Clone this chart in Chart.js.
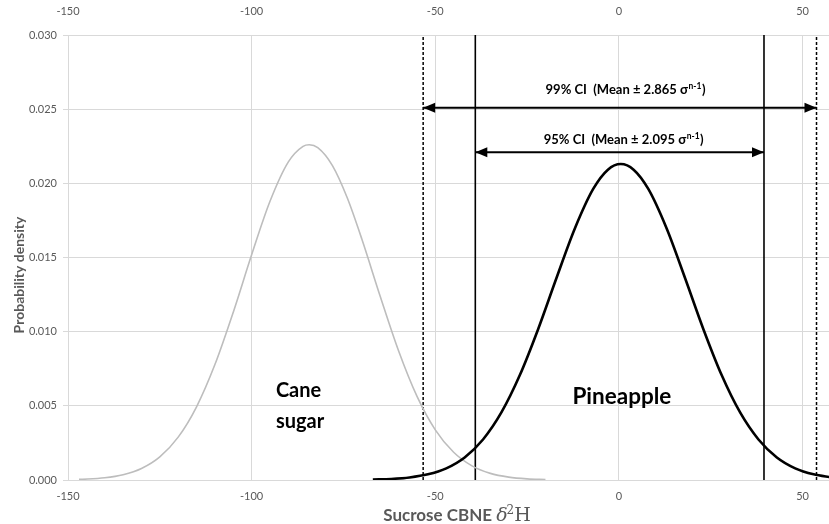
<!DOCTYPE html>
<html><head><meta charset="utf-8">
<script src="https://cdn.jsdelivr.net/npm/chart.js@4"></script>
<style>html,body{margin:0;padding:0;background:#fff}#wrap{width:829px;height:524px;position:relative}</style>
</head><body><div id="wrap"><canvas id="c" width="829" height="524"></canvas></div>
<script>
// Cane sugar probability density (grey curve)
const caneX = [-147, -140, -135, -130, -125, -120, -115, -110, -105, -100, -95, -90, -86, -84.3, -82, -78, -74, -70, -65, -60, -55, -50, -45, -40, -35, -30, -25, -20];
const caneY = [0.0000396, 0.000151, 0.000357, 0.000777, 0.001559, 0.002889, 0.004936, 0.007781, 0.011316, 0.015183, 0.018787, 0.021445, 0.022495, 0.0226, 0.022408, 0.021197, 0.019043, 0.016246, 0.012388, 0.008713, 0.005653, 0.003383, 0.001868, 0.000951, 0.000447, 0.000194, 0.0000775, 0.0000286];
// Pineapple probability density (black curve)
const pineX = [-67, -62, -57, -52, -47, -42, -37, -32, -27, -22, -17, -12, -7, -3, 0.5, 4, 8, 13, 18, 23, 28, 33, 38, 43, 48, 53, 58];
const pineY = [0.0000274, 0.0000708, 0.000170, 0.000380, 0.000788, 0.001521, 0.002730, 0.004552, 0.007056, 0.010167, 0.013617, 0.016953, 0.019620, 0.020922, 0.0213, 0.020922, 0.019620, 0.016953, 0.013617, 0.010167, 0.007056, 0.004552, 0.002730, 0.001521, 0.000788, 0.000380, 0.000170];
// Confidence interval limits (x) and arrow heights (y)
const ci95 = [-39.1, 39.5];
const ci99 = [-53.3, 53.8];
const ci99ArrowY = 0.0251;
const ci95ArrowY = 0.0221;
// Axis ticks
const xTicks = [-150, -100, -50, 0, 50];
const yTicks = [0, 0.005, 0.010, 0.015, 0.020, 0.025, 0.030];
const xMin = -150, xMax = 57.2, yMin = 0, yMax = 0.030;
// Texts
const ci99Text = ['99% CI  (Mean \u00b1 2.865 \u03c3', 'n-1', ')'];
const ci95Text = ['95% CI  (Mean \u00b1 2.095 \u03c3', 'n-1', ')'];
const ci99TextPos = [1.8, 0.02601];
const ci95TextPos = [1.3, 0.02264];
const caneLabel = ['Cane', 'sugar'];
const caneLabelPos = [-93.4, 0.00561, 0.00351];
const pineLabel = 'Pineapple';
const pineLabelPos = [0.8, 0.00514];
const xTitle = ['Sucrose CBNE ', '\u03b4', '2', 'H'];
const yTitle = 'Probability density';

const SANS = 'Lato, "Open Sans", sans-serif';
const SERIF = '"DejaVu Serif", "Liberation Serif", serif';
const GREY_TXT = '#595959';
const GRID = '#d9d9d9';

function pts(xs, ys) { return xs.map((x, i) => ({x: x, y: ys[i]})); }
function vline(x) { return [{x: x, y: yMin}, {x: x, y: yMax}]; }
function hline(xs, y) { return [{x: xs[0], y: y}, {x: xs[1], y: y}]; }

const annot = {
  id: 'annot',
  afterDatasetsDraw(chart) {
    const ctx = chart.ctx;
    const xs = chart.scales.x, ys = chart.scales.y;
    const px = v => xs.getPixelForValue(v), py = v => ys.getPixelForValue(v);
    ctx.save();
    // arrowheads
    function head(xTip, y, dir) {
      const L = 12, W = 5;
      ctx.beginPath();
      ctx.moveTo(xTip, y);
      ctx.lineTo(xTip - dir * L, y - W);
      ctx.lineTo(xTip - dir * L, y + W);
      ctx.closePath();
      ctx.fillStyle = '#000';
      ctx.fill();
    }
    [[ci99, ci99ArrowY], [ci95, ci95ArrowY]].forEach(([r, y]) => {
      head(px(r[0]), py(y), -1);
      head(px(r[1]), py(y), 1);
    });
    // CI labels with superscript
    function ciText(parts, pos) {
      const main = 'bold 13px ' + SANS, sup = 'bold 8.5px ' + SANS;
      ctx.font = main; const w1 = ctx.measureText(parts[0]).width; const w3 = ctx.measureText(parts[2]).width;
      ctx.font = sup; const w2 = ctx.measureText(parts[1]).width;
      let x = px(pos[0]) - (w1 + w2 + w3 + 1) / 2; const y = py(pos[1]);
      ctx.fillStyle = '#000'; ctx.textBaseline = 'alphabetic'; ctx.textAlign = 'left';
      ctx.font = main; ctx.fillText(parts[0], x, y); x += w1 + 0.5;
      ctx.font = sup; ctx.fillText(parts[1], x, y - 5); x += w2 + 0.5;
      ctx.font = main; ctx.fillText(parts[2], x, y);
    }
    ciText(ci99Text, ci99TextPos);
    ciText(ci95Text, ci95TextPos);
    // Series labels
    ctx.fillStyle = '#000';
    ctx.font = 'bold 20px ' + SANS;
    ctx.textAlign = 'left'; ctx.textBaseline = 'alphabetic';
    ctx.fillText(caneLabel[0], px(caneLabelPos[0]), py(caneLabelPos[1]));
    ctx.fillText(caneLabel[1], px(caneLabelPos[0]), py(caneLabelPos[2]));
    ctx.font = 'bold 22.5px ' + SANS;
    ctx.textAlign = 'center';
    ctx.fillText(pineLabel, px(pineLabelPos[0]), py(pineLabelPos[1]));
    // X axis title (mixed fonts)
    const f1 = 'bold 17px ' + SANS, f2 = 'italic 19px ' + SERIF, f3 = '12px ' + SERIF, f4 = '19px ' + SERIF;
    const fonts = [f1, f2, f3, f4];
    const widths = xTitle.map((t, i) => { ctx.font = fonts[i]; return ctx.measureText(t).width; });
    const total = widths.reduce((a, b) => a + b, 0);
    let tx = (chart.chartArea.left + chart.chartArea.right) / 2 + 9 - total / 2;
    const ty = 521;
    ctx.textAlign = 'left'; ctx.fillStyle = GREY_TXT;
    xTitle.forEach((t, i) => {
      ctx.font = fonts[i];
      ctx.fillText(t, tx, i === 2 ? ty - 7 : ty);
      tx += widths[i] - (i === 1 ? 1 : 0);
    });
    // Y axis title (rotated)
    ctx.save();
    ctx.translate(19, 275);
    ctx.rotate(-Math.PI / 2);
    ctx.font = 'bold 14px ' + SANS;
    ctx.textAlign = 'center'; ctx.textBaseline = 'middle';
    ctx.fillText(yTitle, 0, 0);
    ctx.restore();
    ctx.restore();
  }
};

const tickFont = {family: SANS, size: 11};
const setXTicks = s => { s.ticks = xTicks.map(v => ({value: v})); };

new Chart(document.getElementById('c'), {
  type: 'scatter',
  data: {
    datasets: [
      {data: pts(pineX, pineY), showLine: true, borderColor: '#000', borderWidth: 2.6, pointRadius: 0, tension: 0.4, cubicInterpolationMode: 'monotone'},
      {data: pts(caneX, caneY), showLine: true, borderColor: '#bdbdbd', borderWidth: 1.6, pointRadius: 0, tension: 0.4, cubicInterpolationMode: 'monotone'},
      {data: vline(ci95[0]), showLine: true, borderColor: '#000', borderWidth: 1.6, pointRadius: 0},
      {data: vline(ci95[1]), showLine: true, borderColor: '#000', borderWidth: 1.6, pointRadius: 0},
      {data: vline(ci99[0]), showLine: true, borderColor: '#000', borderWidth: 1.5, borderDash: [3, 2], pointRadius: 0},
      {data: vline(ci99[1]), showLine: true, borderColor: '#000', borderWidth: 1.5, borderDash: [3, 2], pointRadius: 0},
      {data: hline(ci99, ci99ArrowY), showLine: true, borderColor: '#000', borderWidth: 2, pointRadius: 0},
      {data: hline(ci95, ci95ArrowY), showLine: true, borderColor: '#000', borderWidth: 2, pointRadius: 0}
    ]
  },
  options: {
    responsive: false,
    animation: false,
    events: [],
    layout: {padding: 0},
    plugins: {legend: {display: false}, tooltip: {enabled: false}},
    scales: {
      x: {
        type: 'linear', position: 'bottom', min: xMin, max: xMax,
        afterBuildTicks: setXTicks,
        afterFit: s => { s.height = 44; },
        grid: {color: GRID, lineWidth: 1, drawTicks: false},
        border: {color: GRID},
        ticks: {color: GREY_TXT, font: tickFont, padding: 10, maxRotation: 0, callback: v => String(v)}
      },
      x2: {
        type: 'linear', position: 'top', min: xMin, max: xMax,
        afterBuildTicks: setXTicks,
        afterFit: s => { s.height = 35; },
        grid: {display: false},
        border: {display: false},
        ticks: {color: GREY_TXT, font: tickFont, padding: 9, maxRotation: 0, callback: v => String(v)}
      },
      y: {
        type: 'linear', position: 'left', min: yMin, max: yMax,
        afterBuildTicks: s => { s.ticks = yTicks.map(v => ({value: v})); },
        afterFit: s => { s.width = 68; },
        grid: {color: GRID, lineWidth: 1, drawTicks: true, tickLength: 5},
        border: {color: GRID},
        ticks: {color: GREY_TXT, font: tickFont, padding: 6, callback: v => v.toFixed(3)}
      }
    }
  },
  plugins: [annot]
});
</script>
</body></html>
